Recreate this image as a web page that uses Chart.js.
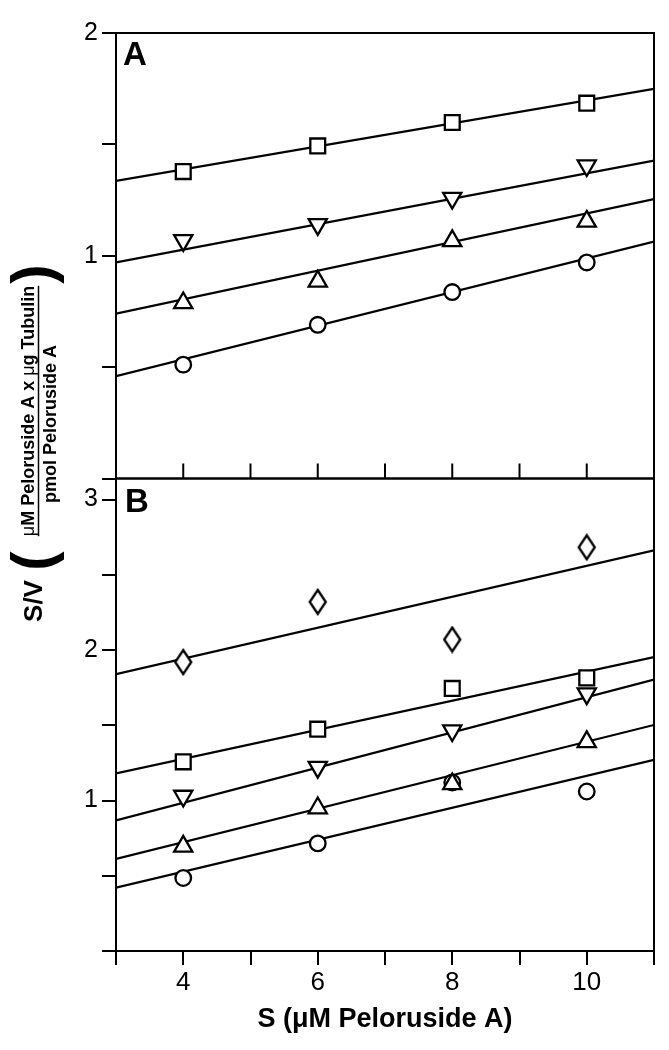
<!DOCTYPE html>
<html lang="en">
<head>
<meta charset="UTF-8">
<title>S/V vs S</title>
<script src="https://cdn.jsdelivr.net/npm/chart.js"></script>
<style>
  body { margin: 0; background: #fff; }
  #box { width: 669px; height: 1050px; }
</style>
</head>
<body>
<div id="box"><canvas id="grafico" width="669" height="1050"></canvas></div>
<script>
// S in uM peloruside A
const concs = [4, 6, 8, 10]
const fitEnds = [3, 11]      // fitted lines drawn across the whole axis
const xLabels = [4, 6, 8, 10]
const yLabelsA = [1, 2]
const yLabelsB = [1, 2, 3]

// panel A  (S/V values)
const aSquare = [1.378, 1.493, 1.598, 1.685]
const aDown   = [1.069, 1.141, 1.259, 1.405]
const aUp     = [0.788, 0.885, 1.067, 1.154]
const aCircle = [0.511, 0.690, 0.837, 0.970]
// fitted line values at S=3 and S=11
const aSquareFit = [1.336, 1.749]
const aDownFit   = [0.970, 1.427]
const aUpFit     = [0.740, 1.254]
const aCircleFit = [0.459, 1.064]

// panel B
const bDiamond = [1.920, 2.320, 2.070, 2.683]
const bSquare  = [1.257, 1.474, 1.745, 1.815]
const bDown    = [1.030, 1.222, 1.465, 1.710]
const bUp      = [0.695, 0.950, 1.110, 1.390]
const bCircle  = [0.485, 0.715, 1.120, 1.060]
const bDiamondFit = [1.840, 2.662]
const bSquareFit  = [1.180, 1.953]
const bDownFit    = [0.868, 1.804]
const bUpFit      = [0.612, 1.502]
const bCircleFit  = [0.421, 1.270]

const fonte = "'Liberation Sans', Arial, sans-serif"
Chart.defaults.font.family = fonte
Chart.defaults.color = '#000'

// tall open diamond used as point style
const losango = document.createElement('canvas')
losango.width = 22
losango.height = 28
const lc = losango.getContext('2d')
lc.beginPath()
lc.moveTo(11, 2); lc.lineTo(19, 14); lc.lineTo(11, 26); lc.lineTo(3, 14)
lc.closePath()
lc.fillStyle = '#fff'; lc.fill()
lc.lineWidth = 2.3; lc.strokeStyle = '#000'; lc.stroke()

const pts = arr => concs.map((x, i) => ({x: x, y: arr[i]}))
const reta = ends => fitEnds.map((x, i) => ({x: x, y: ends[i]}))

function pontos(arr, eixo, estilo, raio, rot) {
    return {
        data: pts(arr), yAxisID: eixo, order: 1,
        pointStyle: estilo, pointRadius: raio, pointHoverRadius: raio,
        rotation: rot || 0,
        pointBackgroundColor: '#fff', pointBorderColor: '#000', pointBorderWidth: 2.3,
        showLine: false
    }
}
function linha(ends, eixo) {
    return {
        data: reta(ends), yAxisID: eixo, order: 2,
        showLine: true, borderColor: '#000', borderWidth: 2.2,
        pointRadius: 0, pointHoverRadius: 0
    }
}

// frames, inner ticks of panel A, panel letters and the composite y title
const moldura = {
    id: 'moldura',
    afterDraw(chart) {
        const ctx = chart.ctx
        const x = chart.scales.x
        const yA = chart.scales.yA
        const yB = chart.scales.yB
        ctx.save()
        ctx.strokeStyle = '#000'
        ctx.lineWidth = 2
        ctx.strokeRect(x.left, yA.top, x.right - x.left, yA.bottom - yA.top)
        ctx.strokeRect(x.left, yB.top, x.right - x.left, yB.bottom - yB.top)
        // ticks pointing up into panel A
        for (let v = 4; v <= 10; v++) {
            const px = x.getPixelForValue(v)
            ctx.beginPath()
            ctx.moveTo(px, yA.bottom)
            ctx.lineTo(px, yA.bottom - 15)
            ctx.stroke()
        }
        ctx.fillStyle = '#000'
        ctx.font = 'bold 33px ' + fonte
        ctx.textAlign = 'left'
        ctx.textBaseline = 'alphabetic'
        ctx.fillText('A', x.left + 7, yA.top + 32)
        ctx.fillText('B', x.left + 9, yB.top + 33)

        // y title, rotated
        const rot = (txt, sx, sy, font, align) => {
            ctx.save()
            ctx.translate(sx, sy)
            ctx.rotate(-Math.PI / 2)
            ctx.font = font
            ctx.textAlign = align || 'center'
            ctx.fillText(txt, 0, 0)
            ctx.restore()
        }
        rot('S/V', 42, 601, 'bold 26px ' + fonte)
        rot('(', 52, 561, 'bold 58px ' + fonte)
        rot(')', 52, 274, 'bold 58px ' + fonte)

        // numerator with regular mu, underlined as fraction bar
        const partes = [
            ['μ', '18px ' + fonte], ['M Peloruside A x ', 'bold 18px ' + fonte],
            ['μ', '18px ' + fonte], ['g Tubulin', 'bold 18px ' + fonte]
        ]
        let total = 0
        partes.forEach(p => { ctx.font = p[1]; total += ctx.measureText(p[0]).width })
        let pos = 411 + total / 2
        partes.forEach(p => {
            ctx.font = p[1]
            const w = ctx.measureText(p[0]).width
            rot(p[0], 34, pos, p[1], 'left')
            pos -= w
        })
        ctx.lineWidth = 1.5
        ctx.beginPath()
        ctx.moveTo(38.5, 411 + total / 2)
        ctx.lineTo(38.5, 411 - total / 2)
        ctx.stroke()
        rot('pmol Peloruside A', 56, 424, 'bold 18px ' + fonte)
        ctx.restore()
    }
}

const eixoY = (id, max, weight, labels) => ({
    type: 'linear', position: 'left', stack: 'painel', stackWeight: weight,
    min: 0, max: max,
    afterFit: s => { s.width = 116 },
    border: { display: false },
    grid: { drawOnChartArea: false, drawTicks: true, tickLength: 14, color: '#000', lineWidth: 2 },
    ticks: {
        stepSize: 0.5, padding: 4, includeBounds: false, font: { size: 25 }, color: '#000',
        callback: v => labels.includes(v) ? String(v) : ''
    }
})

const ctx = document.getElementById('grafico')
const grafico = new Chart(ctx, {
    type: 'scatter',
    data: {
        datasets: [
            pontos(aSquare, 'yA', 'rect', 10.5),
            pontos(aDown, 'yA', 'triangle', 10.5, 180),
            pontos(aUp, 'yA', 'triangle', 10.5),
            pontos(aCircle, 'yA', 'circle', 7.8),
            linha(aSquareFit, 'yA'), linha(aDownFit, 'yA'),
            linha(aUpFit, 'yA'), linha(aCircleFit, 'yA'),
            pontos(bDiamond, 'yB', losango, 11),
            pontos(bSquare, 'yB', 'rect', 10.5),
            pontos(bDown, 'yB', 'triangle', 10.5, 180),
            pontos(bUp, 'yB', 'triangle', 10.5),
            pontos(bCircle, 'yB', 'circle', 7.8),
            linha(bDiamondFit, 'yB'), linha(bSquareFit, 'yB'), linha(bDownFit, 'yB'),
            linha(bUpFit, 'yB'), linha(bCircleFit, 'yB')
        ]
    },
    options: {
        responsive: false,
        animation: false,
        events: [],
        layout: { padding: { top: 33, right: 15, left: 0, bottom: 0 } },
        plugins: { legend: { display: false }, tooltip: { enabled: false } },
        scales: {
            x: {
                type: 'linear', position: 'bottom', min: 3, max: 11,
                afterFit: s => { s.height = 99 },
                border: { display: false },
                grid: { drawOnChartArea: false, drawTicks: true, tickLength: 14, color: '#000', lineWidth: 2 },
                ticks: {
                    stepSize: 1, padding: 2, font: { size: 26 }, color: '#000', maxRotation: 0,
                    callback: v => xLabels.includes(v) ? String(v) : ''
                },
                title: {
                    display: true, text: 'S (μM Peloruside A)', color: '#000',
                    font: { size: 27, weight: 'bold' }, padding: { top: 0, bottom: 14 }
                }
            },
            // left axes are stacked in reverse order: lower panel first
            yB: eixoY('yB', 3.14, 472.5, yLabelsB),
            yA: eixoY('yA', 2, 445.5, yLabelsA)
        }
    },
    plugins: [moldura]
})
</script>
</body>
</html>
